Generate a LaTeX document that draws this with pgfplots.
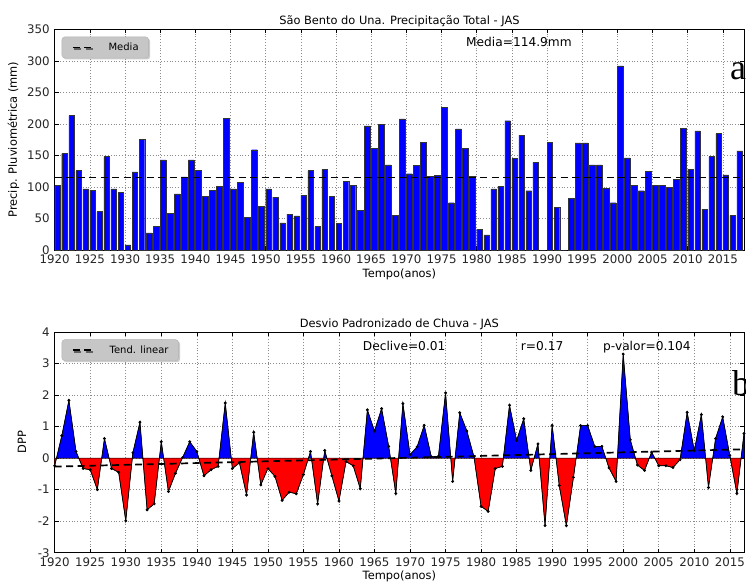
\documentclass[border=0pt]{standalone}
\usepackage{fontspec}
\setmainfont{DejaVu Sans}
\newfontfamily\serifl{Liberation Serif}
\usepackage{pgfplots}
\usepackage{pgfplotstable}
\pgfplotsset{compat=1.18}
\usetikzlibrary{shadows}

\pgfplotstableread{
year val
1920 102
1921 153
1922 213
1923 126
1924 97
1925 95
1926 61
1927 148
1928 97
1929 91
1930 8
1931 124
1932 176
1933 27
1934 37
1935 143
1936 58
1937 89
1938 116
1939 143
1940 126
1941 85
1942 95
1943 101
1944 209
1945 97
1946 107
1947 52
1948 159
1949 69
1950 97
1951 84
1952 43
1953 57
1954 54
1955 87
1956 126
1957 37
1958 128
1959 85
1960 42
1961 109
1962 102
1963 63
1964 197
1965 161
1966 199
1967 135
1968 55
1969 208
1970 121
1971 134
1972 171
1973 117
1974 118
1975 226
1976 75
1977 192
1978 161
1979 117
1980 33
1981 24
1982 97
1983 101
1984 205
1985 145
1986 182
1987 94
1988 139
1989 0
1990 171
1991 68
1992 0
1993 82
1994 170
1995 170
1996 135
1997 135
1998 98
1999 75
2000 292
2001 146
2002 103
2003 94
2004 125
2005 102
2006 102
2007 99
2008 112
2009 193
2010 128
2011 189
2012 65
2013 148
2014 185
2015 119
2016 55
2017 157
}\precip

\pgfplotstableread{
year dpp
1920 -0.24
1921 0.71
1922 1.83
1923 0.21
1924 -0.33
1925 -0.37
1926 -1.00
1927 0.62
1928 -0.33
1929 -0.45
1930 -1.99
1931 0.17
1932 1.14
1933 -1.64
1934 -1.45
1935 0.52
1936 -1.06
1937 -0.48
1938 0.02
1939 0.52
1940 0.21
1941 -0.56
1942 -0.37
1943 -0.26
1944 1.75
1945 -0.33
1946 -0.15
1947 -1.17
1948 0.82
1949 -0.85
1950 -0.33
1951 -0.58
1952 -1.34
1953 -1.08
1954 -1.13
1955 -0.52
1956 0.21
1957 -1.45
1958 0.24
1959 -0.56
1960 -1.36
1961 -0.11
1962 -0.24
1963 -0.97
1964 1.53
1965 0.86
1966 1.57
1967 0.37
1968 -1.12
1969 1.73
1970 0.11
1971 0.36
1972 1.04
1973 0.04
1974 0.06
1975 2.07
1976 -0.74
1977 1.44
1978 0.86
1979 0.04
1980 -1.53
1981 -1.69
1982 -0.33
1983 -0.26
1984 1.68
1985 0.56
1986 1.25
1987 -0.39
1988 0.45
1989 -2.14
1990 1.04
1991 -0.87
1992 -2.14
1993 -0.61
1994 1.03
1995 1.03
1996 0.37
1997 0.37
1998 -0.31
1999 -0.74
2000 3.30
2001 0.58
2002 -0.22
2003 -0.39
2004 0.19
2005 -0.24
2006 -0.24
2007 -0.30
2008 -0.05
2009 1.45
2010 0.24
2011 1.38
2012 -0.93
2013 0.62
2014 1.31
2015 0.08
2016 -1.12
2017 0.78
}\dpptab

\newcommand\fs{\fontsize{11.4}{13}\selectfont}
\newcommand\fst{\fontsize{11.8}{13}\selectfont}
\newcommand\fsa{\fontsize{12.2}{14}\selectfont}
\newcommand\fsl{\fontsize{10}{12}\selectfont}

\pgfplotsset{
  common/.style={
    scale only axis, width=689.3pt, height=220.7pt, anchor=south west,
    xmin=1920, xtick={1920,1925,...,2015},
    grid=major, grid style={black!45, line width=0.6pt, dash pattern=on 0.8pt off 2pt},
    tick align=inside, major tick length=4pt,
    every tick/.style={black, line width=0.6pt},
    axis line style={black, line width=0.9pt},
    ticklabel style={font=\fst, text=black!85, /pgf/number format/assume math mode=true},
    xticklabel style={/pgf/number format/1000 sep={}, yshift=-1.2pt},
    yticklabel style={xshift=-1.6pt},
  },
  leg/.style={
    legend cell align=left,
    legend style={at={(0,1)}, anchor=north west, xshift=7pt, yshift=-7.4pt,
      fill=gray!45, draw=gray!60, rounded corners=3pt,
      drop shadow={shadow xshift=1.5pt, shadow yshift=-1.5pt, fill=gray!80},
      font=\fsl, inner xsep=10pt, inner ysep=6pt, nodes={inner sep=0pt}},
  },
  overlay/.style={
    scale only axis, width=689.3pt, anchor=south west, hide axis,
    xmin=1920, xmax=2017,
  },
}

\begin{document}
\begin{tikzpicture}[x=1pt,y=1pt]
\useasboundingbox (0,0) rectangle (746,582);

% ---------- top panel ----------
\begin{axis}[common, leg, at={(54.7pt,332pt)}, xmax=2018, ymin=0, ymax=350,
  ytick={0,50,...,350},
  legend image code/.code={\draw (0pt,0pt) -- (20pt,0pt); \path (35pt,0pt);}]
\addplot[ybar, bar width=0.8, bar shift=0.4, fill=blue, draw=black!80, line width=0.4pt, forget plot]
  table[x=year, y=val] {\precip};
\addplot[black, line width=1.7pt, dash pattern=on 7pt off 4.5pt]
  coordinates {(1920,114.9) (2018,114.9)};
\addlegendentry{Media}
\end{axis}

% ---------- bottom panel: frame and grid ----------
\begin{axis}[common, at={(54.7pt,29.3pt)}, xmax=2017, ymin=-3, ymax=4,
  ytick={-3,-2,...,4}]
\addplot[draw=none, forget plot] coordinates {(1920,0) (2017,0)};
\end{axis}

% positive part (clipped at zero)
\begin{axis}[overlay, at={(54.7pt,123.89pt)}, height=126.11pt, ymin=0, ymax=4]
\addplot[fill=blue, draw=black, line width=0.4pt] table[x=year, y=dpp] {\dpptab} \closedcycle;
\end{axis}

% negative part (clipped at zero)
\begin{axis}[overlay, at={(54.7pt,29.3pt)}, height=94.59pt, ymin=-3, ymax=0]
\addplot[fill=red, draw=black, line width=0.4pt] table[x=year, y=dpp] {\dpptab} \closedcycle;
\end{axis}

% line, markers, trend and legend
\begin{axis}[overlay, leg, at={(54.7pt,29.3pt)}, height=220.7pt, ymin=-3, ymax=4,
  legend image code/.code={\draw (0pt,0pt) -- (20pt,0pt); \path (36pt,0pt);}]
\addplot[black, line width=0.7pt, mark=*, mark size=1.1pt, forget plot]
  table[x=year, y=dpp] {\dpptab};
\addplot[black, line width=1.7pt, dash pattern=on 7pt off 4.5pt]
  coordinates {(1920,-0.27) (2017,0.28)};
\addlegendentry{Tend. linear}
\end{axis}

% ---------- titles, labels, annotations ----------
\node[anchor=base, inner sep=0] at (399.4,557) {\fs São Bento do Una. Precipitação Total - JAS};
\node[anchor=base, inner sep=0] at (399.4,255) {\fs Desvio Padronizado de Chuva - JAS};
\node[anchor=base, inner sep=0] at (399.4,305) {\fs Tempo(anos)};
\node[anchor=base, inner sep=0] at (399.4,3) {\fs Tempo(anos)};
\node[rotate=90, inner sep=0] at (13.5,442.5) {\fs Precip. Pluviométrica (mm)};
\node[rotate=90, inner sep=0] at (22,140) {\fs DPP};
\node[anchor=base west, inner sep=0] at (466,535.3) {\fsa Media=114.9mm};
\node[anchor=base west, inner sep=0] at (362.7,232) {\fsa Declive=0.01};
\node[anchor=base west, inner sep=0] at (520.7,232) {\fsa r=0.17};
\node[anchor=base west, inner sep=0] at (603,232) {\fsa p-valor=0.104};
\node[anchor=base west, inner sep=0] at (730,502.7) {\serifl\fontsize{36}{40}\selectfont a};
\node[anchor=base west, inner sep=0] at (732,187) {\serifl\fontsize{36}{40}\selectfont b};
\end{tikzpicture}
\end{document}
